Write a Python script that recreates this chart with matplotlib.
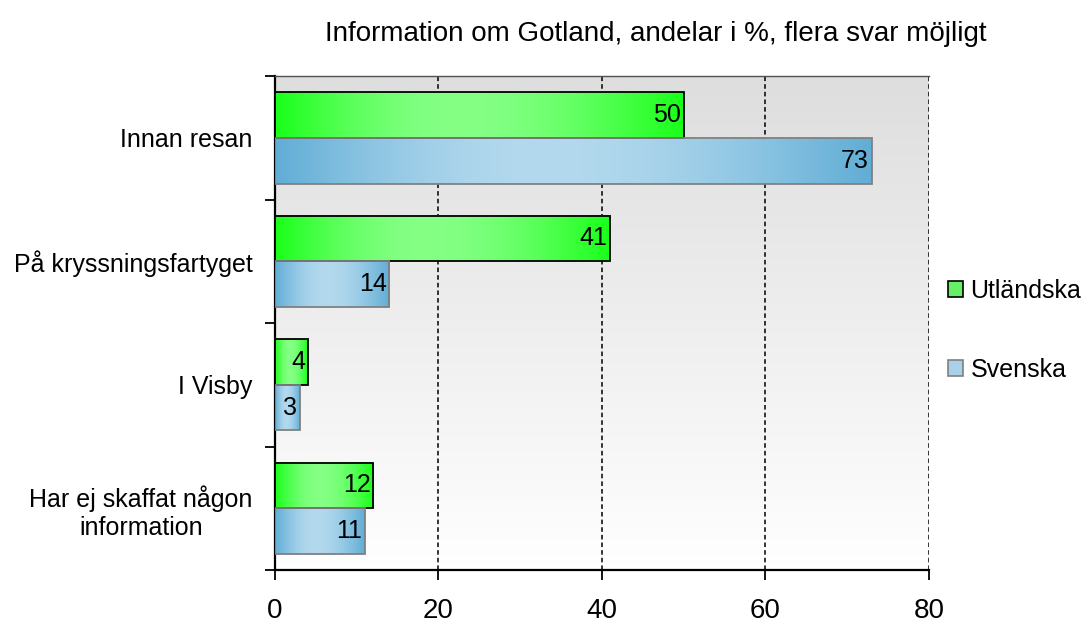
import numpy as np
import matplotlib.pyplot as plt
from matplotlib.patches import Patch

plt.rcParams['font.family'] = ['Liberation Sans', 'DejaVu Sans']

# data
categories = ["Innan resan", "På kryssningsfartyget", "I Visby",
              "Har ej skaffat någon\ninformation"]
utlandska = [50, 41, 4, 12]
svenska = [73, 14, 3, 11]
series_names = ["Utländska", "Svenska"]
title = "Information om Gotland, andelar i %, flera svar möjligt"

green_edge, green_mid = np.array([0.10, 1.0, 0.10]), np.array([0.52, 1.0, 0.52])
blue_edge, blue_mid = np.array([0.38, 0.68, 0.84]), np.array([0.70, 0.85, 0.93])


def grad(c_edge, c_mid, n=200, peak=0.45):
    t = np.linspace(0, 1, n)
    w = np.where(t < peak, t / peak, (1 - t) / (1 - peak))
    w = np.sin(w * np.pi / 2)
    return (c_edge[None, :] * (1 - w[:, None]) + c_mid[None, :] * w[:, None])[None, :, :]


fig = plt.figure(figsize=(10.85, 6.24), dpi=100)
ax = fig.add_axes([0.2535, 0.0865, 0.6025, 0.7915])

# background gradient: grey at top, white at bottom
bg = np.linspace(0.87, 1.0, 100)[::-1][:, None, None] * np.ones((1, 1, 3))
ax.imshow(bg, extent=[0, 1, 1, 0], transform=ax.transAxes, aspect='auto', zorder=0)

y = np.arange(len(categories))
h = 0.37

for vals, off, ce, cm, ec in [(utlandska, -h / 2, green_edge, green_mid, 'black'),
                              (svenska, h / 2, blue_edge, blue_mid, '#808080')]:
    bars = ax.barh(y + off, vals, height=h, facecolor='none', edgecolor=ec,
                   linewidth=1.3, zorder=4)
    for b, v in zip(bars, vals):
        y0, y1 = b.get_y(), b.get_y() + b.get_height()
        ax.imshow(grad(ce, cm), extent=[0, v, y1, y0], aspect='auto', zorder=3)
        ax.text(v - 0.3, b.get_y() + b.get_height() / 2, str(v), ha='right',
                va='center', fontsize=18, zorder=5)

ax.set_aspect('auto')
ax.set_xlim(0, 80)
ax.set_ylim(len(categories) - 0.5, -0.5)

# grid
for gx in [20, 40, 60, 80]:
    ax.axvline(gx, color='black', linestyle=(0, (3, 2)), linewidth=1.1, zorder=2)

ax.set_xticks([0, 20, 40, 60, 80])
ax.tick_params(axis='x', labelsize=20, length=7, width=1.3, pad=13)
ax.set_yticks(np.arange(len(categories) + 1) - 0.5)
ax.set_yticklabels([])
ax.tick_params(axis='y', which='major', length=7, width=1.3)
ax.set_yticks(y, minor=True)
ax.set_yticklabels(categories, minor=True, fontsize=18)
ax.tick_params(axis='y', which='minor', length=0, pad=16)
for lab in ax.get_yticklabels(minor=True):
    lab.set_multialignment('center')

ax.spines['right'].set_visible(False)
ax.spines['top'].set_color('#505050')
ax.spines['top'].set_linewidth(1.0)
for s in ['left', 'bottom']:
    ax.spines[s].set_linewidth(1.6)

fig.text(0.604, 0.945, title, ha='center', va='center', fontsize=20)

handles = [Patch(facecolor='#66ee66', edgecolor='black', linewidth=1.2),
           Patch(facecolor='#a8d0e8', edgecolor='#808080', linewidth=1.2)]
fig.legend(handles, series_names, loc='center left', bbox_to_anchor=(0.8737, 0.47),
           frameon=False, fontsize=18, handlelength=0.6, handleheight=0.6,
           handletextpad=0.3, labelspacing=2.2, borderpad=0, borderaxespad=0)

fig.savefig('out.png', dpi=100)
